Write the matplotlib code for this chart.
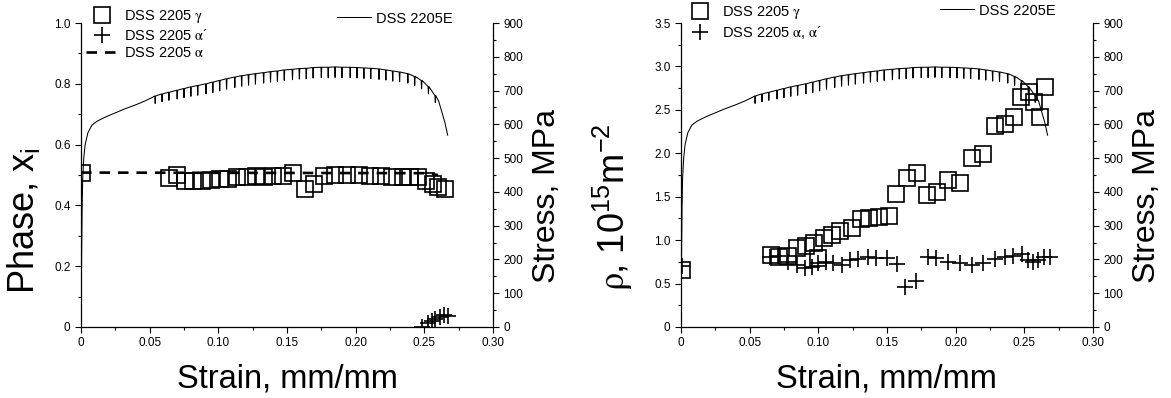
import numpy as np
import matplotlib.pyplot as plt
from matplotlib.lines import Line2D
from matplotlib.ticker import MultipleLocator

plt.rcParams['font.family'] = ['Liberation Sans', 'DejaVu Sans']
plt.rcParams['mathtext.fontset'] = 'custom'
plt.rcParams['mathtext.rm'] = 'STIXGeneral'
plt.rcParams['mathtext.sf'] = 'Liberation Sans'
plt.rcParams['mathtext.it'] = 'Liberation Sans:italic'

# ---- stress-strain curve of DSS 2205E (MPa) ----
# smooth part before the serrations
curve_strain = [0, 0.0004, 0.0008, 0.0012, 0.002, 0.003, 0.005, 0.008, 0.012,
                0.018, 0.025, 0.032, 0.040, 0.047, 0.052]
curve_stress = [0, 200, 350, 440, 500, 540, 575, 598, 610,
                622, 634, 646, 658, 670, 680]
# serrations: strain of each drop, stress before the drop, stress at the bottom
serr_strain = [0.054, 0.059, 0.064, 0.070, 0.075, 0.080, 0.085, 0.091, 0.096, 0.101,
               0.106, 0.112, 0.117, 0.122, 0.127, 0.133, 0.138, 0.143, 0.148, 0.154,
               0.159, 0.164, 0.169, 0.175, 0.180, 0.185, 0.190, 0.196, 0.201, 0.206,
               0.211, 0.217, 0.222, 0.227, 0.232, 0.238, 0.243, 0.248, 0.253, 0.258]
serr_top = [684, 690, 695, 701, 706, 711, 715, 720, 725, 730,
            735, 740, 744, 747, 750, 753, 756, 758, 761, 763,
            765, 766, 768, 769, 769, 770, 769, 769, 768, 767,
            766, 764, 761, 758, 755, 750, 742, 730, 712, 685]
serr_low = [662, 667, 671, 675, 679, 683, 686, 690, 694, 699,
            704, 709, 713, 716, 719, 722, 725, 727, 730, 732,
            734, 735, 737, 738, 738, 739, 738, 738, 737, 736,
            735, 733, 731, 728, 726, 722, 715, 705, 690, 665]
tail_strain = [0.2605, 0.2625, 0.265, 0.267]
tail_stress = [668, 640, 605, 568]

# ---- left panel: phase fractions ----
gamma_l_strain = [0.001, 0.0643, 0.0697, 0.0757, 0.0818, 0.0879, 0.0944, 0.1012, 0.1073,
                  0.1138, 0.1207, 0.1272, 0.1333, 0.1400, 0.1469, 0.1546, 0.1631, 0.1697,
                  0.1769, 0.185, 0.1935, 0.2027, 0.2105, 0.2185, 0.2262, 0.2343, 0.2396,
                  0.2456, 0.2512, 0.2561, 0.2602, 0.2651]
gamma_l = [0.508, 0.489, 0.500, 0.481, 0.481, 0.481, 0.484, 0.486, 0.487,
           0.494, 0.494, 0.497, 0.494, 0.497, 0.497, 0.506, 0.453, 0.470,
           0.497, 0.500, 0.500, 0.500, 0.497, 0.497, 0.494, 0.492, 0.494,
           0.492, 0.481, 0.470, 0.461, 0.453]
alphap_l_strain = [0.248, 0.2525, 0.2555, 0.258, 0.2615, 0.2645, 0.2675]
alphap_l = [0.0, 0.012, 0.020, 0.025, 0.033, 0.039, 0.037]
alpha_l_strain = [0, 0.25, 0.26]
alpha_l = [0.508, 0.506, 0.500]

# ---- right panel: dislocation density ----
gamma_r_strain = [0.001, 0.0653, 0.0716, 0.0782, 0.0842, 0.0910, 0.0968, 0.1000, 0.1039,
                  0.1097, 0.1160, 0.1243, 0.1311, 0.1372, 0.1445, 0.1518, 0.1566, 0.1643,
                  0.1716, 0.1789, 0.1862, 0.1947, 0.2032, 0.2117, 0.2197, 0.2286, 0.2359,
                  0.2425, 0.2474, 0.2536, 0.2570, 0.2614, 0.2651]
gamma_r = [0.66, 0.83, 0.81, 0.82, 0.91, 0.93, 0.97, 0.80, 1.03,
           1.06, 1.10, 1.14, 1.24, 1.25, 1.27, 1.28, 1.53, 1.71,
           1.77, 1.52, 1.55, 1.69, 1.66, 1.94, 1.99, 2.31, 2.34,
           2.42, 2.65, 2.71, 2.59, 2.42, 2.76]
alpha_r_strain = [0.001, 0.0648, 0.0709, 0.0781, 0.0842, 0.0903, 0.0951, 0.1000, 0.1060,
                  0.1109, 0.1170, 0.1230, 0.1291, 0.1364, 0.1424, 0.1497, 0.1570, 0.1631,
                  0.1711, 0.1801, 0.1861, 0.1946, 0.2031, 0.2116, 0.2201, 0.2286, 0.2359,
                  0.2420, 0.2481, 0.2530, 0.2566, 0.2602, 0.2644, 0.2687]
alpha_r = [0.70, 0.81, 0.82, 0.75, 0.71, 0.675, 0.695, 0.733, 0.752,
           0.733, 0.714, 0.771, 0.779, 0.810, 0.791, 0.791, 0.725, 0.457,
           0.533, 0.810, 0.791, 0.752, 0.733, 0.714, 0.741, 0.779, 0.802,
           0.817, 0.840, 0.771, 0.752, 0.771, 0.802, 0.802]

x_ticks = [0, 0.05, 0.10, 0.15, 0.20, 0.25, 0.30]
x_labels = ['0', '0.05', '0.10', '0.15', '0.20', '0.25', '0.30']
phase_ticks = [0, 0.2, 0.4, 0.6, 0.8, 1.0]
phase_labels = ['0', '0.2', '0.4', '0.6', '0.8', '1.0']
rho_ticks = [0, 0.5, 1.0, 1.5, 2.0, 2.5, 3.0, 3.5]
rho_labels = ['0', '0.5', '1.0', '1.5', '2.0', '2.5', '3.0', '3.5']
stress_ticks = [0, 100, 200, 300, 400, 500, 600, 700, 800, 900]

# assemble the serrated stress line
xs = list(curve_strain)
ys = list(curve_stress)
for e, top, low in zip(serr_strain, serr_top, serr_low):
    xs += [e - 0.0003, e, e + 0.0003]
    ys += [top, low, top]
xs += tail_strain
ys += tail_stress

fig = plt.figure(figsize=(11.71, 3.98), dpi=100)
ax_l = fig.add_axes([0.0692, 0.1784, 0.3518, 0.7638])
ax_r = fig.add_axes([0.5815, 0.1784, 0.3518, 0.7638])

mk = dict(linestyle='none', color='black', markerfacecolor='none', markeredgewidth=1.2)
tick_kw = dict(direction='out', width=0.8, labelsize=8.5, colors='black')
leg_kw = dict(frameon=False, fontsize=10.5, borderpad=0, borderaxespad=0,
              bbox_transform=fig.transFigure, loc='upper left')


def style(ax, ax2, yticks, ylabels, yminor, ylim):
    ax.set_xlim(0, 0.30)
    ax.set_ylim(*ylim)
    ax.set_xticks(x_ticks, x_labels)
    ax.xaxis.set_minor_locator(MultipleLocator(0.025))
    ax.set_yticks(yticks, ylabels)
    ax.yaxis.set_minor_locator(MultipleLocator(yminor))
    ax.tick_params(which='major', length=4, **tick_kw)
    ax.tick_params(which='minor', length=2.5, direction='out', width=0.8)
    ax.spines['top'].set_visible(False)
    ax.spines['right'].set_visible(False)
    ax2.set_ylim(0, 900)
    ax2.set_yticks(stress_ticks)
    ax2.yaxis.set_minor_locator(MultipleLocator(50))
    ax2.tick_params(which='major', length=4, **tick_kw)
    ax2.tick_params(which='minor', length=2.5, direction='out', width=0.8)
    for s in ['top', 'left', 'bottom']:
        ax2.spines[s].set_visible(False)
    for a in (ax, ax2):
        for s in a.spines.values():
            s.set_linewidth(0.9)
    ax.set_xlabel('Strain, mm/mm', fontsize=23.5)
    ax.xaxis.set_label_coords(0.5, -0.12)
    ax2.set_ylabel('Stress, MPa', fontsize=23)
    ax2.yaxis.set_label_coords(1.094, 0.43)


# left panel
ax_l2 = ax_l.twinx()
ax_l.plot(alpha_l_strain, alpha_l, color='black', lw=1.9, dashes=(4, 3))
ax_l.plot(gamma_l_strain, gamma_l, marker='s', ms=11.5, **mk)
ax_l.plot(alphap_l_strain, alphap_l, marker='+', ms=12, **mk)
ax_l2.plot(xs, ys, color='black', lw=0.75)
style(ax_l, ax_l2, phase_ticks, phase_labels, 0.1, (0, 1.0))
ax_l.set_ylabel('Phase, x$_{\\mathsf{i}}$', fontsize=26)
ax_l.yaxis.set_label_coords(-0.095, 0.35)

h_l = [Line2D([], [], marker='s', ms=11.5, **mk),
       Line2D([], [], marker='+', ms=12, **mk),
       Line2D([], [], color='black', lw=1.9, dashes=(4, 3))]
ax_l.legend(h_l, ['DSS 2205 $\\mathrm{\\gamma}$', 'DSS 2205 $\\mathrm{\\alpha}$´',
                  'DSS 2205 $\\mathrm{\\alpha}$'],
            bbox_to_anchor=(0.0735, 0.979), handlelength=2.15, handletextpad=0.45,
            labelspacing=0.2, numpoints=1, **leg_kw)
ax_l2.legend([Line2D([], [], color='black', lw=0.75)], ['DSS 2205E'],
             bbox_to_anchor=(0.2878, 0.971), handlelength=2.3, handletextpad=0.4,
             **leg_kw)

# right panel
ax_r2 = ax_r.twinx()
ax_r.plot(gamma_r_strain, gamma_r, marker='s', ms=11.5, **mk)
ax_r.plot(alpha_r_strain, alpha_r, marker='+', ms=12, **mk)
ax_r2.plot(xs, ys, color='black', lw=0.75)
style(ax_r, ax_r2, rho_ticks, rho_labels, 0.25, (0, 3.5))
ax_r.set_ylabel('$\\mathrm{\\rho}$, 10$^{\\mathsf{15}}$m$^{\\mathsf{-2}}$', fontsize=26)
ax_r.yaxis.set_label_coords(-0.112, 0.395)

h_r = [Line2D([], [], marker='s', ms=11.5, **mk),
       Line2D([], [], marker='+', ms=12, **mk)]
ax_r.legend(h_r, ['DSS 2205 $\\mathrm{\\gamma}$',
                  'DSS 2205 $\\mathrm{\\alpha}$, $\\mathrm{\\alpha}$´'],
            bbox_to_anchor=(0.5845, 0.989), handlelength=2.15, handletextpad=0.45,
            labelspacing=0.2, numpoints=1, **leg_kw)
ax_r2.legend([Line2D([], [], color='black', lw=0.75)], ['DSS 2205E'],
             bbox_to_anchor=(0.8027, 0.991), handlelength=2.3, handletextpad=0.4,
             **leg_kw)

fig.savefig('out.png', dpi=100)
